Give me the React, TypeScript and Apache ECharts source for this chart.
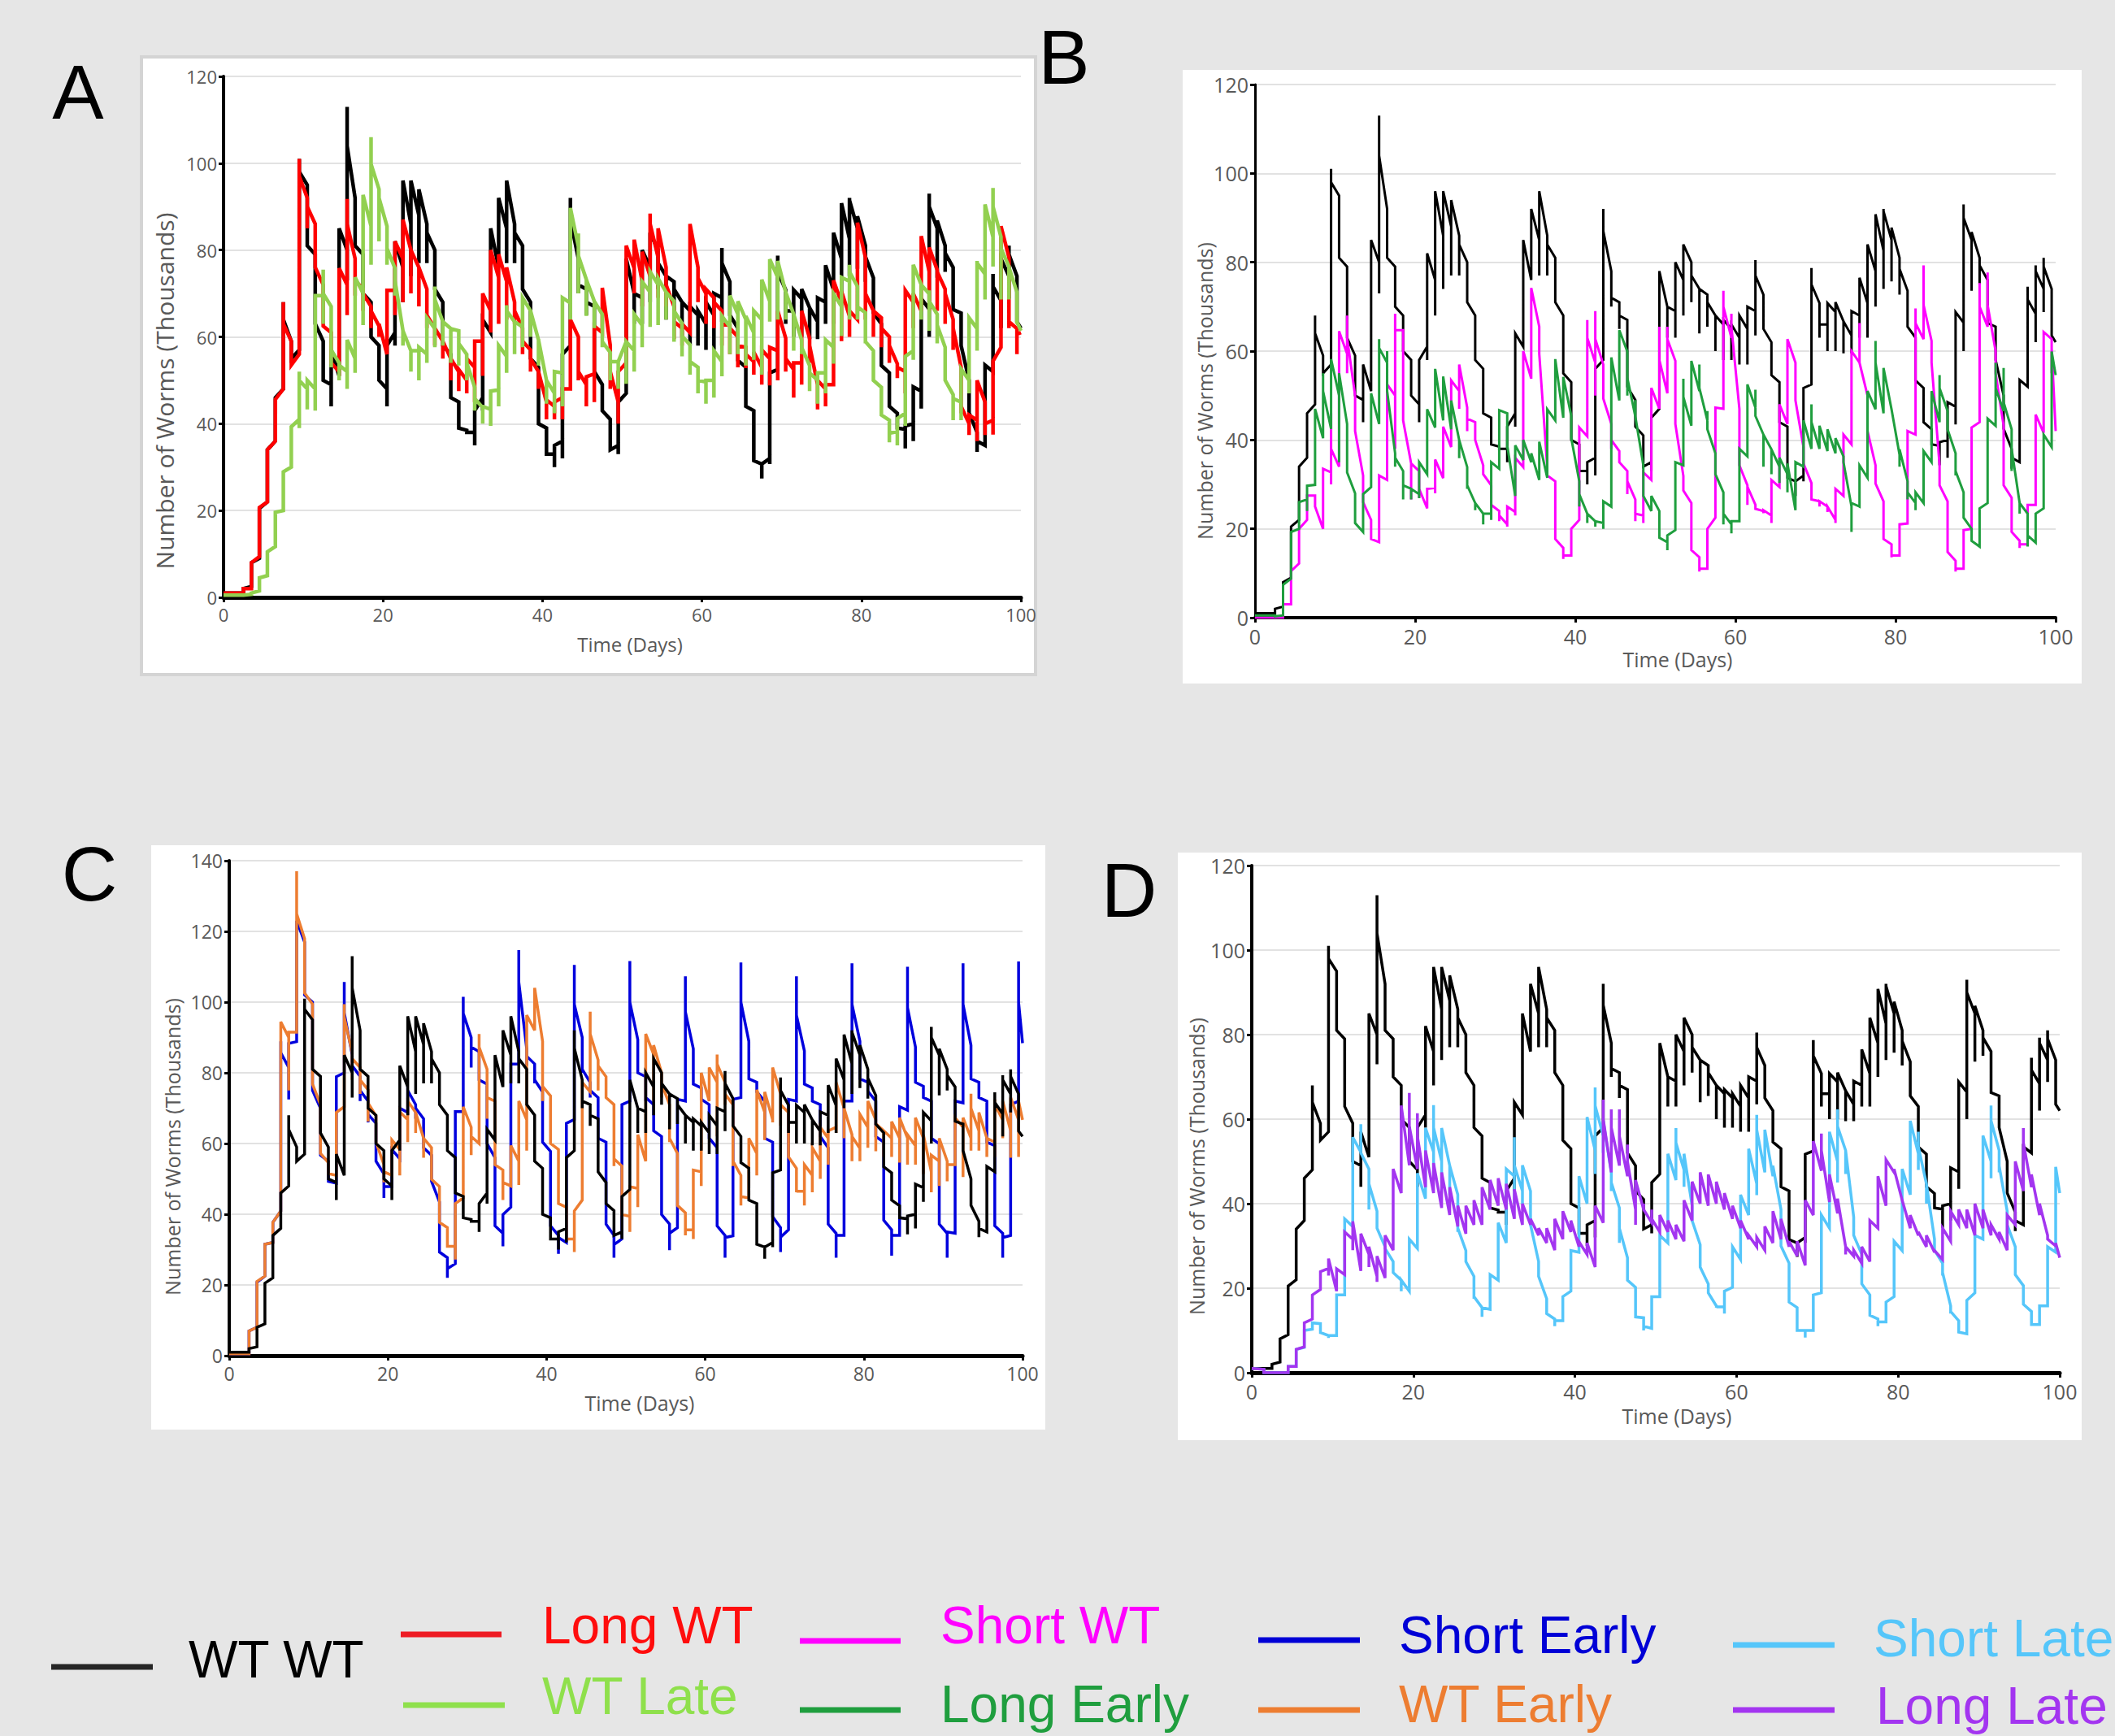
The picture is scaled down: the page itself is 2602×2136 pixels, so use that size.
import React, { useEffect, useRef } from "react";
import * as echarts from "echarts";

// ---------------- DATA ----------------
// Each series: 101 groups. Group 0 is at day 0, group k (1..99) at day k+0.5,
// group 100 at day 100. Values inside a group are visited vertically at that day;
// the last value of a group slopes to the first value of the next group.

const X_MIN = 0;
const X_MAX = 100;
const X_STEP = 20;
const Y_STEP = 20;
const Y_MAX_ABD = 120;
const Y_MAX_C = 140;

const WT_WT: number[][] = [
  [1],[1],[1,2],[2.5,8],[9,20.5],[22,34],[36,46],[48,68,64],[59,55],[57,101,98],
  [95,81],[79,63],[59,50],[49,44,57],[51,85],[80,73,113,104],[92,81],[79,70],[68,60],[58,50],
  [48,44,58],[61,58,82],[76,68,96],[86,74,96],[88,77,94],[86,77,84],[80,71],[68,58],[56,46],[45,39],
  [38.5,38],[38,35,43],[46,43,64],[61,85],[76,92],[85,77,96],[86,77,84],[81,71],[68,55],[53,40],
  [39,33],[33,30,35],[36,32,56],[58,92,87],[78,70,72],[71,65,68],[67,52],[49,43],[41,34],[35,33,45],
  [47,78],[70,63,70],[69,63,80],[76,68,84],[80,71,77],[74,64,74],[72.7,65.5,71],[68,60,68],[66,58,67],[65,58,66],
  [63,57,68],[65,57,70],[69,63.5,80.5,77],[72.7,65],[62,54.6],[53,44],[43,31.5],[30.7,27.4,30.7],[32,30.7,51.7],[52.5,78.7,75],
  [70.8,63,66],[66,60,70.8],[68.8,60,71],[66.7,59.5,66.7],[63.5,59.5,69],[68,63,76.5],[70.8,63,84],[78,70,90.8],[82.6,74,92,91.5],[85,75.7,87.8],
  [81,72.7,78.5],[73.6,65.5],[63,53.4],[51.7,44],[42.4,39],[38.7,34.3,39.5],[40,36,48.5],[47.5,43.5,68.8],[66.4,60,93,90],[85,73.6,86.8],
  [81,75,79.3],[76,66.3],[65.5,58],[50,42.5],[38,33.5,36],[35,53.5],[52,74.5,71.6],[68.4,62,79.3,78],[74,68.8,81,79],[74,66,63.5],
  [62]
];

const LONG_WT: number[][] = [
  [1],[1],[1,2],[2,8],[9.4,20.7],[22,34],[36,45.6],[48,68,63],[59,53.5],[56,101,97],
  [92,85,90],[86,76],[72,62.5],[61,54],[52,75.8],[72,65,91.8,86],[78,69.5,73],[71,66,70],[67,62,66],[62.5,60,63],
  [56,70.7],[70.7,65,82],[78,68,87],[80,70,80],[76,67,76],[71,62,65],[62,58,62],[59,55,59],[55,50,55],[52,47.5,52.5],
  [50,47,55],[53,45,59],[59,51,70],[66,61,80],[73.7,63,79],[72.8,64,76],[68,63,66],[62,56,59],[57,52,55],[52,48,52],
  [45,41,45.5],[44,41,45],[46,41,48],[48,64],[60,50,52],[49,44,50.8],[51.5,45,62.5],[61,71.3],[58,48,52],[45,40,52],
  [54,81],[75.8,70,82.4],[72.8,67,79.6],[74,88.4,86],[78.3,69,85],[76,67,72],[67,59.5,63.5],[62,58,63],[61,86],[76,68,73.5],
  [70,63,71],[69,62,68],[66,58,63],[62.7,56,62],[60,53,58],[57.6,52.8,56],[54.3,51.3,56.5],[53,49,57],[55,48.8,57.6],[56.8,50,66],
  [59.7,52,55],[52.5,46,54],[54,49,66],[59.7,54,58],[49,43.3,50],[48,44,49],[49,73],[67.8,59,70.5],[64.8,60,66],[64,86.3],
  [78.3,64,70],[66,60,66],[64.4,57.6,62],[60,54,58],[53.8,50.5,53],[52,47,70.7],[68,62,70],[66,83.2],[75,66,80.6],[75.4,66,75],
  [71,63,70],[64,57,62],[53,42.4,44],[40,37.4,42],[40.8,36,50],[45,37.4,40],[40.8,37.5,54.4],[57.6,85.5],[78.3,62,63.5],[61.9,56,60.6],
  [61]
];

const WT_LATE: number[][] = [
  [0.5],[0.5],[0.5,0.5],[0.7,1],[1.5,4.5],[5,10.5],[11.7,19.6],[20,28.9],[30,39.3],[41,39,52,50],
  [48,43.3,50],[48,43,69.5],[69.5,63,75.5,70],[67,53,57],[54,50,53.5],[52,48,59.3],[55,51.7,73.7],[70,62.7,92.7],[85.5,76.6,106,99.8],[94,82,92],
  [85.5,76.6,80.4],[75.8,69.5,73],[61.4,58,61.4],[56.8,52,56.8],[56.8,50,57.6],[56,54,64.4],[61.9,57.6,71.6,68.6],[63.5,58,63.5],[61.9,54,61.9],[61.4,53.4,58.5],
  [56,50,54],[48.4,43,45.8],[43.7,40,44],[43.3,39.5,47.5],[47.8,44,58],[55.5,51.7,67.3,66],[63.5,56,63.5],[62.3,57.6,69],[66,60,66],[59.3,53.4,59.3],
  [50,44.6,50],[47,42.4,52],[51.7,44,69],[67.8,64,89.7],[80.8,70,83.8,78.7],[73.2,64.8,73.2],[68.2,62,68.2],[65.2,57.6,58.9],[56.4,50,54.3],[54.3,48,54.3],
  [58.9,49.2,58.9],[56.8,52,65.2],[62.7,57.6,72.7],[70.3,62.3,75],[72,62.7,73.5],[70.3,64,70.3],[68.2,58.9,66],[63.1,55.5,60.2],[58.2,51.3,54.3],[53,47,50],
  [49.6,44.6,50],[50,46,56.8],[54.3,50.9,64.8],[62.3,56,69.5],[65.2,56,68.2],[64,53.4,64.8],[61,54.7,66],[64,51.3,73.2],[68.2,63.5,77.9],[73.7,64,77.5],
  [70.3,64,70.3],[65.2,56.8,65.2],[59.3,56,57.6],[53.4,47.5,51.7],[50,44.6,51.7],[51.7,47,59.3],[57.6,53.8,69.9],[67,60.2,73.7],[72.8,64,76.6,75],[71.6,64,66.9],
  [65.6,58.5,58.9],[56.8,50,50],[48.4,42,42],[40.8,35.7,37.8],[38.2,35,41.2],[42.4,39.5,55.5],[56.8,54.7,76.6],[72,64,72],[69.9,61.4,70.7,68.2],[65.2,58.5,62.7],
  [57.6,50,50],[46.7,40.8,45.8],[45,40.8,52.6],[50,47,64.4],[61.9,56.8,77.5,77],[74.5,68.6,90.5],[83,76.2,94.3,90],[83,68.6,80.4],[76.2,68.6,76],[70.3,63,63.5],
  [61.4]
];

const SHORT_WT: number[][] = [
  [0],[0],[0,0],[0,3],[3,10.5],[12.2,20],[22,27.5],[27.5,25],[20,33.5],[32.7,30,46,38],
  [34,64.5],[59.4,55,68,63],[50,42],[32,26],[22,17.7],[17,32],[31,52.5],[50,38,68.4,64.7],[64.7,44.4],[34.7,26.6,34.7],
  [33,27,29],[24.6,29],[29.2,28,35.6],[31.4,43],[38.4,53.4],[51,47,57],[47.3,42,44.8],[44,40],[34.3,32.3],[29.8,25.4],
  [24,21.7,23],[21,20.5,25],[23.8,23,36],[33.9,60],[53.8,74.2],[65.5,59.4],[34,32],[30.7,17.7],[15.7,13.2,14],[14,20],
  [22,42.8],[40.8,67,63],[57.4,50,69,62.7],[57,49.3],[43.6,38,40],[37.5,35],[33,27.8,30.7],[26.6,21.7,23.4],[23,21.3,32.7],[31,51.7],
  [47,65.5,58],[50.5,65.5,62.7],[57.8,43.6],[31.9,28.6],[25.8,15.2],[13.6,10.4,11],[11,20],[22.5,47.3],[47,73.6,70],[63,68.4,65.5],
  [47,34.3],[29.8,25.4,29.5],[25.4,24.5],[24,23.5,24.2],[23,21.3,31],[29.4,48],[43.6,62.7],[57.4,48.9],[38.4,34.7],[30.3,26.6],
  [26.2,25,26.2],[25,23.8,25],[22,21.3,29],[27.4,41.2],[39,60],[57.4,66.3,57.4],[50,42],[34.3,30.2],[26.2,17.7],[16.5,13.6,14],
  [14,21],[21.2,42],[41.2,69.6,66.3],[62.7,79.3,70.4],[62.3,57.4],[34.3,29.8],[26.2,14.8],[12.8,10.4,11],[11,19.7],[20,42.8],
  [44,75.3,70],[65.5,77.7,70.4],[60,55],[43.2,29.8],[27,19.3],[17.3,15.7,16.5],[16.5,25.4],[25.4,45.7],[41.6,64.3],[62.7,55,60.7],
  [42]
];

const LONG_EARLY: number[][] = [
  [0.5],[0.5],[0.5,0.3],[0.5,7.4],[8.8,19.3],[20,26],[26.6,24,29.7],[29.9,47],[40.4,55,51],[42.5,58.2],
  [50,35,55],[43.6,32.7],[28,21.3],[19.3,27.8],[29.4,50.5],[43.6,62.7,60.7],[57.4,60,51],[37,34,36],[33,26.6,29.8],[29,26.6,29],
  [27.8,26.9,35],[32.3,46.9],[42.8,56],[44.4,54.3],[42.4,48.9],[40,35.9,40],[33.9,29,29.8],[25.8,24.2,25.8],[23.4,21,23.4],[23.4,22,35],
  [33.5,46.7],[46,38,38.8],[27.4,38.8],[35.5,40],[35,37],[31,39.6],[31.5,46.9],[44.4,58.2],[45,54.2],[45.4,40.4],
  [30.7,25,27.8],[23.4,21.3,23.4],[21.7,20.5,21.7],[21.3,20,26.2],[25,58.6],[48.9,64.7],[59.9,50,54],[45.3,49,45.3],[34.3,27.4],[24,27.4],
  [24,18],[17,15.2,18.5],[19.7,35],[34.3,53.8,49.7],[43.2,57.8],[51,57,51.7],[44.4,46.5,42.4],[37,32.3],[28.2,21,23.4],[21,19,21.7],
  [21.7,38],[36.3,52.5],[47.3,51.3,45.4],[41.2,34,41.2],[37.9,32.3,37.9],[34,30.3,36],[32.3,28.2,34.7],[24.2,35],[34,44.4],[38,48,44],
  [38,43.2],[37.5,42.4],[37,40.4],[36.3,35],[25,19.3,25.8],[25,34.3],[31.5,51],[46.9,62.3,57.4],[46,56.2],[46.9,47],
  [36.7,34,37.9],[30.7,26.6,28.2],[25.8,24.2,28.2],[25.8,37.5],[35,51],[44,54.6,51.7],[46.5,46.5,42.4],[37,32,33],[28.2,22.5],[20,17.3],
  [16,24.6],[25.8,44.8],[43.2,57.4,51.7],[46.5,56.2,48.5],[42.4,33,38],[25.8,23.4,25.8],[23.4,16,18.5],[16.9,23.4],[24.6,41.2],[38.4,59.9],
  [54.6]
];

const SHORT_EARLY: number[][] = [
  [0.5],[0.5],[0.5,7],[8,20.8],[22.5,31.5],[32,37.7],[40.9,88.9,85.7],[81.5,72.5,88.3],[88.8,123],[117,102],
  [100,75],[70,56.7],[55,49.3],[48.8,78.9],[80,105.7,97],[85,82],[79,72,75],[72,66,68.3],[65.7,55],[51.4,44.6,47.8],
  [47.8,58.3],[55.7,70],[68.8,75],[71,67,70],[67,58.8],[56.7,49.3],[43.5,29.3],[27.7,22,24.6],[26,69],[69,101.5,96.8],
  [90,81.5,87.3],[86,78],[76.8,60],[56,36.7],[34.6,30.9,39.9],[42,82.5],[82.5,114.7,105.7],[86.8,82,84.7],[82.5,77,78],[74.6,60.4],
  [57.8,36.7],[34,28.8,33.4],[32,65.7],[66.8,110.5,99.4],[90,80,81],[77.3,73,75],[73,61.5],[60.4,37.2],[34,27.7,31.4],[33,71],
  [72,111.6,100],[89.4,80],[78.9,72,73],[71,63.6],[62,39.9],[37.2,29.8,34.6],[36.2,72.5],[72,107.3,97.3],[86.8,76.8],[75.7,72,72.5],
  [71,61.5],[58.8,36.7],[34,27.7,33.4],[33.9,72.5],[73,111.2,100],[88.9,78.3],[77.3,74.6],[72,61.5],[60.4,39.3],[36.2,29.3,33.5],
  [35.6,72.5],[72,107.3,96.3],[86.2,76.8],[75.7,72],[71,62],[58.8,37.2],[34.6,27.7,34],[34,72],[72,111,99.4],[88.9,78.3],
  [77.3,74.8],[72,62],[60.4,38.3],[35.6,28.3,34],[34,70.4],[69.4,110,98.4],[87.3,77.3],[76.2,73],[72,61.5],[59.9,37.2],
  [34.6,27.7,35],[34.6,72],[71.5,111,99.4],[87.8,78.3],[77.3,73],[72,60.4],[59.4,36.7],[34.6,27.7,33.4],[34,71],[72,111.5,100],
  [88.4]
];

const WT_EARLY: number[][] = [
  [0.5],[0.5],[0.5,7],[8,21],[22.5,31.5],[32,37.7],[40.9,94.4],[90,75,91.5],[91.5,137,125],[117.9,102.6],
  [99.4,76.8],[71,57.2],[54.6,51.5],[51,68.8],[70.4,99.4,95.7],[85.7,78,84],[81.5,74,78],[75.2,66.2,71.5],[67.8,60.4],[54,49,52],
  [51,61],[58.3,51,70.4,69],[66.7,60.4,73,72],[68.8,63,68.8],[61.5,56,61.5],[58.8,49.9],[47.8,37.7],[36.2,30.9],[30.9,27.2,43],[44.6,70.4],
  [64.6,56.7,62],[60,91,87.3],[81,67,73],[72,54],[52.5,44,49],[48,59.4],[55,48.3,72],[66.7,58,96.3],[92,104],[88.9,72,76.2],
  [73.5,60,60],[58.3,43],[42,33],[33,29.3,40.9],[44,77.3],[74.6,97.3,91],[83.6,75,82],[78.9,73],[71,53.6,55.7],[53.6,39.9],
  [39.4,35,47.8],[47.3,42,62.5],[55,91],[85.2,72,87.8],[80,73,77],[71,60.4,61.5],[57.2,42.5],[40.4,34,35.6],[35.6,33,52.5],[52,48,80],
  [72,81.5],[77.3,62,85.2,82.5],[77.3,71,74],[71,53.6,55],[51,42.5,45],[44.6,61.5],[57.2,51,75.2],[68.8,61,74.6],[66.7,66,81.5],[74,65,71],
  [68.8,57,56.2],[53,46.2,46.5],[46.5,42.5,54],[51,46.2,58.8],[55,50,64.6],[61.5,54,63.6],[64.6,63,77.3],[70,61.5,70],[62.5,55,62],[58.6,55,68.3],
  [64.6,58.8,72],[66.7,57.8,65.6],[63.6,56.2,63.6],[61.5,56.2,66.2],[61.5,54.6,67.3],[61.5,54,62.5],[59.4,54,67.3],[61.5,51.4,62.5],[52,46.2,56.7],[55,48,61.5],
  [55,49.3,54],[54,67.3],[64.6,50.5,67.3],[61.5,58,74.1,70],[63.6,58,68.8],[61.5,56.2,61.5],[60.4,56.2,72.5,71],[66.7,61.5,72],[63.6,56,73],[66.7,56.2,72],
  [66.7]
];

const SHORT_LATE: number[][] = [
  [1],[0.8,0],[0,0],[0,0],[0,1.5],[1.5,5.5],[6,10],[10.3,11.8],[11.6,9.2,9.5],[8.8,8.2,8.8],
  [8.8,18.4],[18.4,36.4],[34.6,55.7],[52.2,58.8,52],[48.2,38.6,44.7],[38.2,34.2],[29.8,29.4],[26.3,23.7],[21.9,19.3,21.9],[19.3,31.6],
  [29.4,47.2],[41.2,57.9],[52.2,47,63.3,58],[50,45,57.9],[49,42,49],[42.1,33.3,34.2],[28.9,26.3],[22.8,17.5,18],[15.4,13.2,15.4],[15,23.2],
  [21.9,35.5],[30.7,48.2],[46.5,40,55.7,49.1],[43,40,49.1],[43,35,35],[26.3,22.8],[17.5,14],[12.7,11,12.3],[12.3,18],[19.3,28.9],
  [28.5,46.5],[40,60.5],[52.6,47,67.5,63.2],[56,52,59.6],[47.4,43,45],[39,30.7,34.2],[27.2,21.9],[20.2,13.2],[13,10,11],[10.5,18],
  [18,32.5],[30.7,51.8],[45.6,57.9,54.4],[48,44,51.8],[39.5,36],[30.3,25],[21,18.9],[15.8,15.4,15.6],[15.6,14,19.3],[20.2,29.8],
  [26.8,42.1],[37.3,53],[44.7,42,61,57.5],[47.4,57.5],[46.5,49],[38.6,31.6,30],[25.9,16.7],[15.4,12.7,10],[10,8.3,10],[10,18.4],
  [18.9,37.3],[34.2,57],[50,45,62.3,58.3],[52.6,47,52.6],[36.8,33,32.5],[28,23,21],[18.4,13.6],[12.7,11,12],[12,16.7],[18,31.1],
  [28.9,48.2],[42.1,59.6],[51.8,48,57,53.5],[44.7,40,44.7],[31.6,29],[25.9,23,23.7],[15.8,14,14.5],[12.3,9.6,9.6],[9.2,17.1],[18.9,32.5],
  [31.6,56.1],[50,46,63.2,59.6],[52.6,47.4,49],[38.2,31.6,35],[29.8,23.7,23.2],[20.6,16.2],[14.5,11.4,11.4],[11.4,15.8],[15.8,29.8],[28.5,48.7],
  [42.5]
];

const LONG_LATE: number[][] = [
  [1],[0.8,0],[0,0],[0,0],[0,1.5],[1.5,5.5],[6.1,11.8],[12.7,18.4],[19.7,23.9],[24.7,23,27],
  [19.3,24.6],[23.2,33.3],[31.6,29,35.8],[24.1,32.9],[28,25,29.8],[22.8,21.5,27.6],[22.4,32.5],[29,48.2],[42.5,63.2],[49.1,66.2,58.3],
  [48.2,61.4,56],[43.9,52.6],[42.5,49.6],[39,47.4],[37.3,43.9],[34.6,39.5],[32.9,39.5],[35,40.8],[35,43.9],[38.6,45.6],
  [39.5,46],[38.6,44.7],[36.4,43.4],[35,40],[35,36.4],[32.5,34.2],[30.7,34.2],[29,36.4],[31.6,38.2],[33.3,36],
  [29.8,31],[28,30.7],[25,39.5],[35.5,64.6,60],[47.4,62.3,58],[49,62.3,56],[46.5,54,50],[38.6,35,45.6],[38.6,40,38.6],[35.5,38.6,36.4],
  [33.3,37.3],[33.3,36],[31.6,35],[31.1,40.8],[36,45.2],[40,47.4],[39.5,46.9],[40,45.2],[38.6,42.5],[36.4,39.5],
  [34.2,36],[31.6,32.5],[29.8,32],[29,34.6],[30.7,38.2],[31.6,36.4],[29.8,31.1],[27.6,31.1],[25.4,40.8],[37.3,54.8],
  [47.8,56.6,52.6],[40.4,46.9],[37.7,41.2],[29.8,28,29.8],[27.6,29],[25.9,29.8],[26.3,36],[34.2,46.5],[39.5,50.4],[47.4,48.2],
  [40.8,40.8],[34.2,37.3],[32.5,33.3],[29.8,32.5],[28.5,28.9],[26.8,34.2],[31.1,38.2],[35,38.6],[34.2,38.6],[32.5,40],
  [34.2,38.6],[32.5,35],[31.6,33.3],[29,37.3],[35,50],[43,57.9,54.4],[43.9,46.9],[37.3,40],[32.5,31.6],[30,30.7],
  [27.2]
];

const LEGEND_NAMES = ["WT WT", "Long WT", "WT Late", "Short WT", "Long Early", "Short Early", "WT Early", "Short Late", "Long Late"];
const PANEL_LETTERS = ["A", "B", "C", "D"];
const X_TITLE = "Time (Days)";
const Y_TITLE = "Number of Worms (Thousands)";

// ---------------- STYLES / LAYOUT ----------------
const W = 2602;
const H = 2136;
const BG = "#e6e6e6";
const GRID_COLOR = "#d9d9d9";
const LABEL_COLOR = "#595959";
const TICK_FONT = "'Open Sans', 'Noto Sans', sans-serif";
const LEGEND_FONT = "'Liberation Sans', Arial, sans-serif";

const COLORS: Record<string, string> = {
  "WT WT": "#000000",
  "Long WT": "#ff0000",
  "WT Late": "#92d050",
  "Short WT": "#ff00ff",
  "Long Early": "#1f9e3e",
  "Short Early": "#0000dd",
  "WT Early": "#ed7d31",
  "Short Late": "#55c6fa",
  "Long Late": "#a335f0",
};
const LEGEND_COLORS: Record<string, string> = {
  "WT WT": "#000000",
  "Long WT": "#ff0d0d",
  "WT Late": "#8fe04c",
  "Short WT": "#ff00ff",
  "Long Early": "#1f9e3e",
  "Short Early": "#0000d6",
  "WT Early": "#ed7d31",
  "Short Late": "#55c6fa",
  "Long Late": "#a335f0",
};
const LEGEND_LINE_COLORS: Record<string, string> = {
  "WT WT": "#262626",
  "Long WT": "#ee1c24",
  "WT Late": "#8fe04c",
  "Short WT": "#ff00ff",
  "Long Early": "#1f9e3e",
  "Short Early": "#0000d6",
  "WT Early": "#ed7d31",
  "Short Late": "#55c6fa",
  "Long Late": "#a335f0",
};

type PanelCfg = {
  box: { x: number; y: number; w: number; h: number; border?: boolean };
  grid: { left: number; top: number; width: number; height: number };
  yMax: number;
  tickFont: number;
  axisW: number;
  lineW: number;
  letter: { x: number; y: number };
  xTitle: { x: number; y: number; size: number };
  yTitle: { x: number; y: number; size: number };
  series: { name: string; data: number[][] }[];
};

const PANELS: PanelCfg[] = [
  {
    box: { x: 174, y: 70, w: 1100, h: 760, border: true },
    grid: { left: 275, top: 94, width: 981, height: 641 },
    yMax: Y_MAX_ABD, tickFont: 22, axisW: 4, lineW: 4.5,
    letter: { x: 96, y: 113 },
    xTitle: { x: 775, y: 792, size: 24 },
    yTitle: { x: 202, y: 481, size: 30 },
    series: [
      { name: "WT WT", data: WT_WT },
      { name: "Long WT", data: LONG_WT },
      { name: "WT Late", data: WT_LATE },
    ],
  },
  {
    box: { x: 1455, y: 86, w: 1106, h: 755 },
    grid: { left: 1544, top: 104, width: 985, height: 656 },
    yMax: Y_MAX_ABD, tickFont: 25, axisW: 3, lineW: 3,
    letter: { x: 1309, y: 70 },
    xTitle: { x: 2064, y: 811, size: 25 },
    yTitle: { x: 1482, y: 481, size: 25 },
    series: [
      { name: "WT WT", data: WT_WT },
      { name: "Short WT", data: SHORT_WT },
      { name: "Long Early", data: LONG_EARLY },
    ],
  },
  {
    box: { x: 186, y: 1040, w: 1100, h: 719 },
    grid: { left: 282, top: 1059, width: 976, height: 609 },
    yMax: Y_MAX_C, tickFont: 23, axisW: 4, lineW: 3.5,
    letter: { x: 110, y: 1075 },
    xTitle: { x: 787, y: 1726, size: 25 },
    yTitle: { x: 212, y: 1411, size: 25 },
    series: [
      { name: "Short Early", data: SHORT_EARLY },
      { name: "WT Early", data: WT_EARLY },
      { name: "WT WT", data: WT_WT },
    ],
  },
  {
    box: { x: 1449, y: 1049, w: 1112, h: 723 },
    grid: { left: 1540, top: 1065, width: 994, height: 624 },
    yMax: Y_MAX_ABD, tickFont: 25, axisW: 4, lineW: 3.5,
    letter: { x: 1389, y: 1095 },
    xTitle: { x: 2063, y: 1742, size: 25 },
    yTitle: { x: 1472, y: 1435, size: 25 },
    series: [
      { name: "WT WT", data: WT_WT },
      { name: "Short Late", data: SHORT_LATE },
      { name: "Long Late", data: LONG_LATE },
    ],
  },
];

// legend layout: [name, lineX1, lineX2, lineY, textX, textY]
const LEGEND_LAYOUT: [string, number, number, number, number, number][] = [
  ["WT WT", 63, 188, 2051, 232, 2042],
  ["Long WT", 493, 617, 2011, 667, 2000],
  ["WT Late", 496, 621, 2098, 667, 2087],
  ["Short WT", 984, 1108, 2019, 1157, 2000],
  ["Long Early", 984, 1108, 2104, 1157, 2097],
  ["Short Early", 1548, 1673, 2018, 1721, 2012],
  ["WT Early", 1548, 1673, 2104, 1721, 2097],
  ["Short Late", 2132, 2257, 2024, 2305, 2016],
  ["Long Late", 2132, 2257, 2104, 2308, 2099],
];

function toPoints(groups: number[][]): number[][] {
  const pts: number[][] = [];
  const last = groups.length - 1;
  groups.forEach((g, i) => {
    const t = i === 0 ? X_MIN : i === last ? X_MAX : i + 0.5;
    g.forEach((v) => pts.push([t, v]));
  });
  return pts;
}

function buildOption() {
  const grid: any[] = [];
  const xAxis: any[] = [];
  const yAxis: any[] = [];
  const series: any[] = [];
  const graphic: any[] = [];

  PANELS.forEach((p, i) => {
    graphic.push({
      type: "rect",
      z: -10,
      shape: { x: p.box.x, y: p.box.y, width: p.box.w, height: p.box.h },
      style: p.box.border
        ? { fill: "#ffffff", stroke: "#d4d4d4", lineWidth: 4 }
        : { fill: "#ffffff" },
      silent: true,
    });
    graphic.push({
      type: "text",
      z: 10,
      x: p.letter.x,
      y: p.letter.y,
      style: {
        text: PANEL_LETTERS[i],
        fill: "#000000",
        font: `95px ${LEGEND_FONT}`,
        textAlign: "center",
        textVerticalAlign: "middle",
      },
    });
    graphic.push({
      type: "text",
      z: 10,
      x: p.xTitle.x,
      y: p.xTitle.y,
      style: {
        text: X_TITLE,
        fill: LABEL_COLOR,
        font: `${p.xTitle.size}px ${TICK_FONT}`,
        textAlign: "center",
        textVerticalAlign: "middle",
      },
    });
    graphic.push({
      type: "text",
      z: 10,
      x: p.yTitle.x,
      y: p.yTitle.y,
      rotation: Math.PI / 2,
      style: {
        text: Y_TITLE,
        fill: LABEL_COLOR,
        font: `${p.yTitle.size}px ${TICK_FONT}`,
        textAlign: "center",
        textVerticalAlign: "middle",
      },
    });

    grid.push({ ...p.grid, containLabel: false, show: false });
    xAxis.push({
      type: "value",
      gridIndex: i,
      min: X_MIN,
      max: X_MAX,
      interval: X_STEP,
      axisLine: { show: true, onZero: false, lineStyle: { color: "#000", width: p.axisW + 1 } },
      axisTick: { show: true, length: 6, lineStyle: { color: "#000", width: 3 } },
      axisLabel: { color: LABEL_COLOR, fontSize: p.tickFont, fontFamily: TICK_FONT, margin: 10 },
      splitLine: { show: false },
    });
    yAxis.push({
      type: "value",
      gridIndex: i,
      min: 0,
      max: p.yMax,
      interval: Y_STEP,
      axisLine: { show: true, onZero: false, lineStyle: { color: "#000", width: p.axisW } },
      axisTick: { show: true, length: 6, lineStyle: { color: "#000", width: 3 } },
      axisLabel: { color: LABEL_COLOR, fontSize: p.tickFont, fontFamily: TICK_FONT, margin: 8 },
      splitLine: { show: true, lineStyle: { color: GRID_COLOR, width: 1.5 } },
    });
    p.series.forEach((s, j) => {
      series.push({
        type: "line",
        name: s.name,
        xAxisIndex: i,
        yAxisIndex: i,
        data: toPoints(s.data),
        showSymbol: false,
        symbol: "none",
        silent: true,
        z: 3 + j,
        lineStyle: { color: COLORS[s.name], width: p.lineW, join: "miter" },
        itemStyle: { color: COLORS[s.name] },
        animation: false,
      });
    });
  });

  LEGEND_LAYOUT.forEach(([name, x1, x2, ly, tx, ty]) => {
    graphic.push({
      type: "line",
      z: 10,
      shape: { x1, y1: ly, x2, y2: ly },
      style: { stroke: LEGEND_LINE_COLORS[name], lineWidth: 7 },
    });
    graphic.push({
      type: "text",
      z: 10,
      x: tx,
      y: ty,
      style: {
        text: name,
        fill: LEGEND_COLORS[name],
        font: `64px ${LEGEND_FONT}`,
        textAlign: "left",
        textVerticalAlign: "middle",
      },
    });
  });

  return {
    animation: false,
    backgroundColor: BG,
    grid,
    xAxis,
    yAxis,
    series,
    graphic: { elements: graphic },
  };
}

export default function App() {
  const ref = useRef<HTMLDivElement>(null);
  useEffect(() => {
    document.body.style.margin = "0";
    if (!ref.current) return;
    const chart = echarts.init(ref.current, undefined, { renderer: "svg", width: W, height: H });
    chart.setOption(buildOption() as any);
    return () => chart.dispose();
  }, []);
  return (
    <div
      ref={ref}
      style={{ position: "absolute", left: 0, top: 0, width: W, height: H, background: BG }}
    />
  );
}
